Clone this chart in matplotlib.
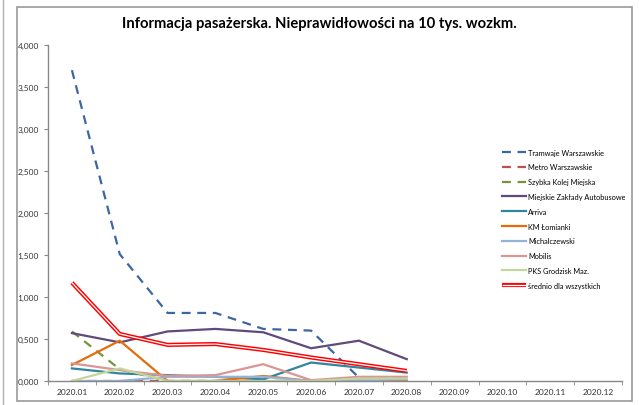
import numpy as np
import matplotlib.pyplot as plt
from matplotlib.lines import Line2D
from matplotlib.patches import Rectangle
from matplotlib.legend_handler import HandlerTuple

plt.rcParams['font.family'] = ['Lato', 'DejaVu Sans']

# Dane
miesiace = ["2020.01", "2020.02", "2020.03", "2020.04", "2020.05", "2020.06",
            "2020.07", "2020.08", "2020.09", "2020.10", "2020.11", "2020.12"]

tramwaje = [3.70, 1.51, 0.81, 0.81, 0.62, 0.60, 0.04, 0.03]
metro = [0.0, 0.0, 0.0, 0.0, 0.0, 0.0, 0.0, 0.0]
skm = [0.59, 0.14, 0.0, 0.0, 0.0, 0.0, 0.0, 0.0]
mza = [0.57, 0.46, 0.59, 0.62, 0.58, 0.39, 0.48, 0.26]
arriva = [0.15, 0.09, 0.07, 0.05, 0.02, 0.22, 0.16, 0.10]
km_lomianki = [0.19, 0.48, 0.0, 0.0, 0.06, 0.0, 0.0, 0.0]
michalczewski = [0.0, 0.0, 0.05, 0.05, 0.05, 0.0, 0.01, 0.02]
mobilis = [0.21, 0.13, 0.06, 0.07, 0.20, 0.01, 0.05, 0.05]
pks_grodzisk = [0.0, 0.15, 0.0, 0.0, 0.0, 0.0, 0.03, 0.03]
srednio = [1.17, 0.56, 0.43, 0.44, 0.37, 0.28, 0.20, 0.12]

fig = plt.figure(figsize=(6.39, 4.06), dpi=100)
ax = fig.add_axes([48 / 639, 1 - 382 / 406, 574 / 639, 336 / 406])

# ramka wykresu i linia po lewej
fig.patches.append(Rectangle((17 / 639, 1 - 402 / 406), 615 / 639, 394 / 406,
                             transform=fig.transFigure, fill=False,
                             edgecolor="#9a9a9a", linewidth=1.2))
fig.add_artist(Line2D([3 / 639, 3 / 639], [0, 1], transform=fig.transFigure,
                      color="#b0b0b0", linewidth=1))

x = np.arange(8)
dash = (0, (4, 3))
serie = [
    ("Tramwaje Warszawskie", tramwaje, "#3c67a3", dash),
    ("Metro Warszawskie", metro, "#c0504d", dash),
    ("Szybka Kolej Miejska", skm, "#77933c", dash),
    ("Miejskie Zakłady Autobusowe", mza, "#604a7b", "-"),
    ("Arriva", arriva, "#31859c", "-"),
    ("KM Łomianki", km_lomianki, "#e46c0a", "-"),
    ("Michalczewski", michalczewski, "#95b3d7", "-"),
    ("Mobilis", mobilis, "#d99694", "-"),
    ("PKS Grodzisk Maz.", pks_grodzisk, "#c3d69b", "-"),
]

uchwyty = []
etykiety = []
for nazwa, y, kolor, styl in serie:
    ln, = ax.plot(x, y, color=kolor, linestyle=styl, linewidth=1.6)
    uchwyty.append(ln)
    etykiety.append(nazwa)

l1, = ax.plot(x, srednio, color="#ff0000", linewidth=3.0, solid_capstyle="butt")
l2, = ax.plot(x, srednio, color="white", linewidth=0.9, solid_capstyle="butt")
uchwyty.append((l1, l2))
etykiety.append("średnio dla wszystkich")

ax.set_xlim(-0.5, 11.5)
ax.set_ylim(0, 4)
ax.set_yticks(np.arange(0, 4.01, 0.5))
ax.set_yticklabels([f"{v:.3f}".replace(".", ",") for v in np.arange(0, 4.01, 0.5)])
ax.set_xticks(np.arange(12))
ax.set_xticklabels(miesiace)
ax.set_xticks(np.arange(-0.5, 12, 1), minor=True)
ax.tick_params(axis="x", which="major", length=0, labelsize=6, pad=5, colors="#333333")
ax.tick_params(axis="x", which="minor", length=3, color="#888888", direction="out")
ax.tick_params(axis="y", length=3, labelsize=6, color="#888888", labelcolor="#333333")
for s in ["top", "right"]:
    ax.spines[s].set_visible(False)
for s in ["left", "bottom"]:
    ax.spines[s].set_color("#888888")
    ax.spines[s].set_linewidth(1)

fig.text(0.5, 1 - 24 / 406, "Informacja pasażerska. Nieprawidłowości na 10 tys. wozkm.",
         ha="center", va="center", fontsize=10.6, fontweight="bold")

fig.legend(uchwyty, etykiety, loc="upper left", bbox_to_anchor=(495 / 639, 1 - 143 / 406),
           frameon=False, fontsize=5.3, handlelength=3.3, handletextpad=0.3,
           labelspacing=1.06, handler_map={tuple: HandlerTuple(ndivide=1, pad=0)})

fig.savefig("out.png", dpi=100)
